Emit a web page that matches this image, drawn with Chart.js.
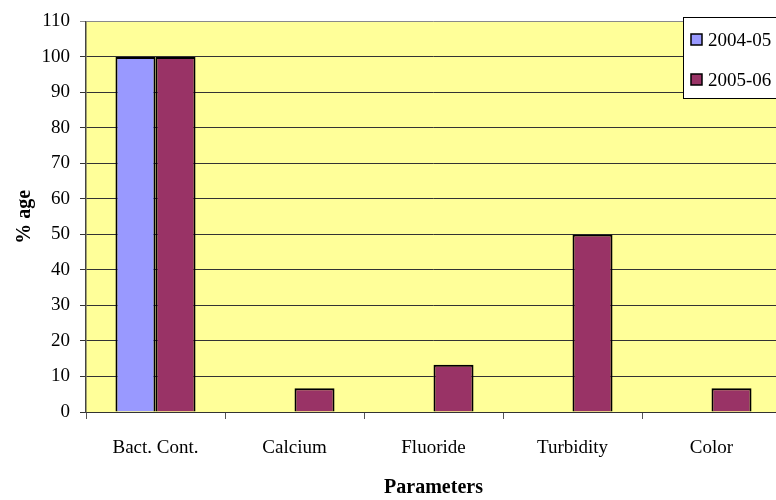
<!DOCTYPE html>
<html>
<head>
<meta charset="utf-8">
<script src="https://cdn.jsdelivr.net/npm/chart.js@4/dist/chart.umd.min.js"></script>
<style>
  html, body { margin: 0; padding: 0; background: #ffffff; }
  #wrap { width: 776px; height: 500px; overflow: hidden; position: relative; }
  canvas { display: block; }
</style>
</head>
<body>
<div id="wrap"><canvas id="c" width="800" height="500"></canvas></div>
<script>
// Share of samples failing each water-quality parameter, by year
const categories = ['Bact. Cont.', 'Calcium', 'Fluoride', 'Turbidity', 'Color'];
const seriesNames = ['2004-05', '2005-06'];
const values2004 = [100, 0, 0, 0, 0];
const values2005 = [100, 6.7, 13.3, 50, 6.7];
const yTicks = [0, 10, 20, 30, 40, 50, 60, 70, 80, 90, 100, 110];

const serif = '"Liberation Serif", "Times New Roman", serif';

// Boxed legend in the upper right corner of the plot
const boxLegend = {
  id: 'boxLegend',
  afterDraw(chart) {
    const ctx = chart.ctx;
    const x0 = 683, y0 = 17, w = 110, h = 81;
    ctx.save();
    ctx.fillStyle = '#ffffff';
    ctx.fillRect(x0, y0, w, h);
    ctx.strokeStyle = '#000000';
    ctx.lineWidth = 1;
    ctx.strokeRect(x0 + 0.5, y0 + 0.5, w, h);
    ctx.font = '19px ' + serif;
    ctx.textBaseline = 'middle';
    chart.data.datasets.forEach((ds, i) => {
      const cy = 40 + i * 40;
      ctx.fillStyle = ds.backgroundColor;
      ctx.fillRect(691, cy - 6, 11, 11);
      ctx.strokeStyle = '#000000';
      ctx.lineWidth = 1.5;
      ctx.strokeRect(691, cy - 6, 11, 11);
      ctx.fillStyle = '#000000';
      ctx.fillText(ds.label, 708, cy + 1);
    });
    ctx.restore();
  }
};

// Pale yellow plot background
const plotFill = {
  id: 'plotFill',
  beforeDraw(chart) {
    const a = chart.chartArea;
    const ctx = chart.ctx;
    ctx.save();
    ctx.fillStyle = '#FFFF99';
    ctx.fillRect(a.left, a.top, a.right - a.left, a.bottom - a.top);
    ctx.restore();
  }
};

new Chart(document.getElementById('c'), {
  type: 'bar',
  data: {
    labels: categories,
    datasets: [
      { label: seriesNames[0], data: values2004, backgroundColor: '#9999FF', borderColor: '#000000', borderWidth: 2 },
      { label: seriesNames[1], data: values2005, backgroundColor: '#993366', borderColor: '#000000', borderWidth: 2 }
    ]
  },
  options: {
    responsive: false,
    animation: false,
    events: [],
    layout: { padding: { top: 20, right: 19, left: 0, bottom: 0 } },
    datasets: { bar: { categoryPercentage: 0.576, barPercentage: 1.0 } },
    plugins: {
      legend: { display: false },
      tooltip: { enabled: false }
    },
    scales: {
      x: {
        offset: true,
        grid: { offset: true, drawOnChartArea: false, color: '#555555', tickLength: 7 },
        border: { color: '#333333', width: 1 },
        ticks: { color: '#000000', font: { family: serif, size: 19 }, padding: 18, maxRotation: 0 },
        title: { display: true, text: 'Parameters', color: '#000000', font: { family: serif, size: 20, weight: 'bold' }, padding: { top: 0, bottom: 0 } },
        afterFit(scale) { scale.height = 88; }
      },
      y: {
        min: 0,
        max: 110,
        afterBuildTicks(scale) { scale.ticks = yTicks.map(v => ({ value: v })); },
        grid: {
          color: ctx => (ctx.tick && ctx.tick.value === 110 ? '#8a8a8a' : '#333333'),
          tickLength: 6,
          lineWidth: 1
        },
        border: { color: '#444444', width: 1.5 },
        ticks: { color: '#000000', font: { family: serif, size: 19 }, padding: 10 },
        title: { display: true, text: '% age', color: '#000000', font: { family: serif, size: 20, weight: 'bold' }, padding: { top: 13, bottom: 0 } },
        afterFit(scale) { scale.width = 86; }
      }
    }
  },
  plugins: [plotFill, boxLegend]
});
</script>
</body>
</html>
